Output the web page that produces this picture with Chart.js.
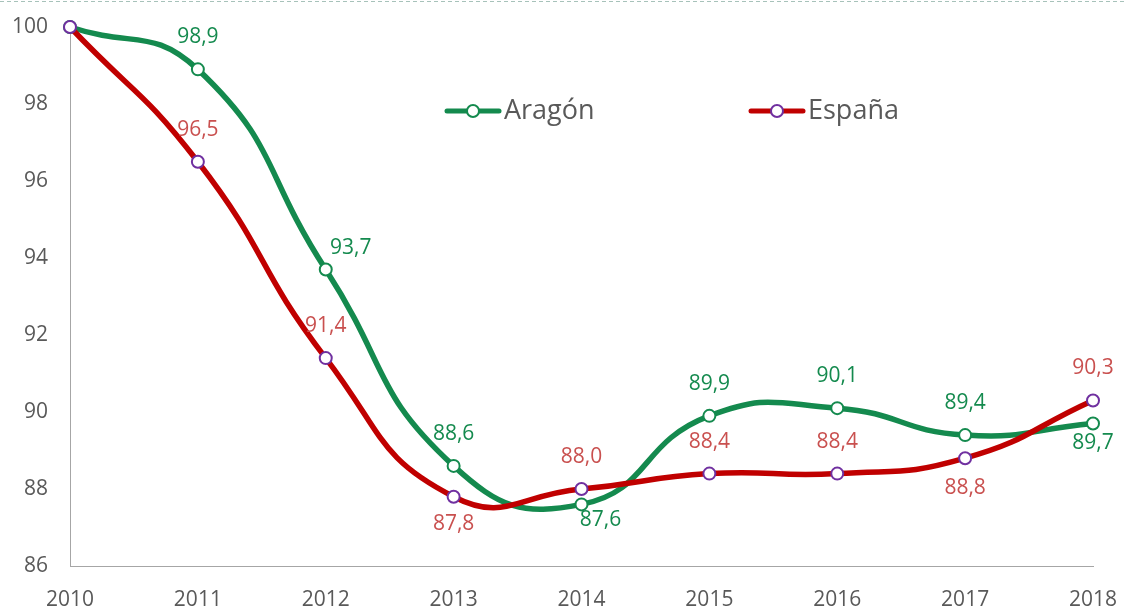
<!DOCTYPE html>
<html>
<head>
<meta charset="utf-8">
<script src="https://cdn.jsdelivr.net/npm/chart.js@4/dist/chart.umd.min.js"></script>
<style>
  html, body { margin: 0; padding: 0; background: #ffffff; }
  #wrap { width: 1125px; height: 608px; position: relative; }
</style>
</head>
<body>
<div id="wrap"><canvas id="c" width="1125" height="608"></canvas></div>
<script>
// ---- data ----
const years = ['2010', '2011', '2012', '2013', '2014', '2015', '2016', '2017', '2018'];
const aragon = [100, 98.9, 93.7, 88.6, 87.6, 89.9, 90.1, 89.4, 89.7];
const espana = [100, 96.5, 91.4, 87.8, 88.0, 88.4, 88.4, 88.8, 90.3];
const seriesNames = ['Aragón', 'España'];
const yTicks = [86, 88, 90, 92, 94, 96, 98, 100];

// label placement keywords (style, not data)
const aragonLabelPos = ['none', 'above', 'aboveRight', 'above', 'belowRight', 'above', 'above', 'above', 'belowNear'];
const espanaLabelPos = ['none', 'above', 'above', 'below', 'above', 'above', 'above', 'belowFar', 'above'];

const GREEN = '#148a4e';
const RED = '#c00000';
const PURPLE = '#7030a0';
const GREEN_LABEL = '#148a4e';
const RED_LABEL = '#c9504f';
const TEXT = '#595959';
const FONT = "'Open Sans', 'Noto Sans', sans-serif";

const offsets = {
  above: [0, -32],
  below: [0, 27],
  belowFar: [0, 30],
  belowNear: [0, 19],
  belowRight: [19, 16],
  aboveRight: [25, -22]
};

const labelPlugin = {
  id: 'labelsAndDecor',
  beforeDraw(chart) {
    const ctx = chart.ctx;
    ctx.save();
    ctx.strokeStyle = '#a7c2ba';
    ctx.lineWidth = 1;
    ctx.setLineDash([4, 3]);
    ctx.beginPath();
    ctx.moveTo(0, 1.5);
    ctx.lineTo(chart.width, 1.5);
    ctx.stroke();
    ctx.restore();
  },
  afterDatasetsDraw(chart) {
    const ctx = chart.ctx;
    ctx.save();
    ctx.font = '21px ' + FONT;
    ctx.textAlign = 'center';
    ctx.textBaseline = 'middle';
    const posArrays = [aragonLabelPos, espanaLabelPos];
    const colors = [GREEN_LABEL, RED_LABEL];
    chart.data.datasets.forEach((ds, di) => {
      const meta = chart.getDatasetMeta(di);
      meta.data.forEach((pt, i) => {
        const p = posArrays[di][i];
        if (p === 'none') return;
        const off = offsets[p];
        const txt = ds.data[i].toFixed(1).replace('.', ',');
        ctx.fillStyle = colors[di];
        ctx.fillText(txt, pt.x + off[0], pt.y + off[1]);
      });
    });
    // legend
    const items = [
      { x: 445, color: GREEN, border: GREEN, name: seriesNames[0] },
      { x: 749, color: RED, border: PURPLE, name: seriesNames[1] }
    ];
    const ly = 111;
    items.forEach(it => {
      ctx.strokeStyle = it.color;
      ctx.lineWidth = 5;
      ctx.lineCap = 'round';
      ctx.beginPath();
      ctx.moveTo(it.x + 2, ly);
      ctx.lineTo(it.x + 54, ly);
      ctx.stroke();
      ctx.beginPath();
      ctx.arc(it.x + 28, ly, 6, 0, Math.PI * 2);
      ctx.fillStyle = '#ffffff';
      ctx.fill();
      ctx.lineWidth = 2;
      ctx.strokeStyle = it.border;
      ctx.stroke();
      ctx.fillStyle = TEXT;
      ctx.font = '27px ' + FONT;
      ctx.textAlign = 'left';
      ctx.fillText(it.name, it.x + 59, ly);
    });
    ctx.restore();
  }
};

new Chart(document.getElementById('c'), {
  type: 'line',
  data: {
    labels: years,
    datasets: [
      {
        label: seriesNames[0],
        data: aragon,
        borderColor: GREEN,
        borderWidth: 5.5,
        pointRadius: 6,
        pointBorderWidth: 2,
        pointBackgroundColor: '#ffffff',
        pointBorderColor: GREEN,
        tension: 0.5,
        order: 1,
        clip: false
      },
      {
        label: seriesNames[1],
        data: espana,
        borderColor: RED,
        borderWidth: 5.5,
        pointRadius: 6,
        pointBorderWidth: 2,
        pointBackgroundColor: '#ffffff',
        pointBorderColor: PURPLE,
        tension: 0.5,
        order: 0,
        clip: false
      }
    ]
  },
  options: {
    responsive: false,
    animation: false,
    devicePixelRatio: 1,
    layout: { padding: { top: 27, right: 32, left: 0, bottom: 0 }, autoPadding: false },
    plugins: {
      legend: { display: false },
      tooltip: { enabled: false }
    },
    scales: {
      x: {
        offset: false,
        grid: { display: false, drawTicks: false },
        border: { display: true, color: '#a6a6a6', width: 1 },
        ticks: { color: TEXT, font: { family: FONT, size: 21 }, padding: 21, maxRotation: 0 },
        afterFit: s => { s.height = 42; s.paddingLeft = 0; s.paddingRight = 0; }
      },
      y: {
        min: 86,
        max: 100,
        afterBuildTicks: s => { s.ticks = yTicks.map(v => ({ value: v })); },
        grid: { display: false, drawTicks: false },
        border: { display: true, color: '#a6a6a6', width: 1 },
        ticks: { color: TEXT, font: { family: FONT, size: 21 }, padding: 22 },
        afterFit: s => { s.width = 70; s.paddingTop = 0; s.paddingBottom = 0; }
      }
    }
  },
  plugins: [labelPlugin]
});
</script>
</body>
</html>
